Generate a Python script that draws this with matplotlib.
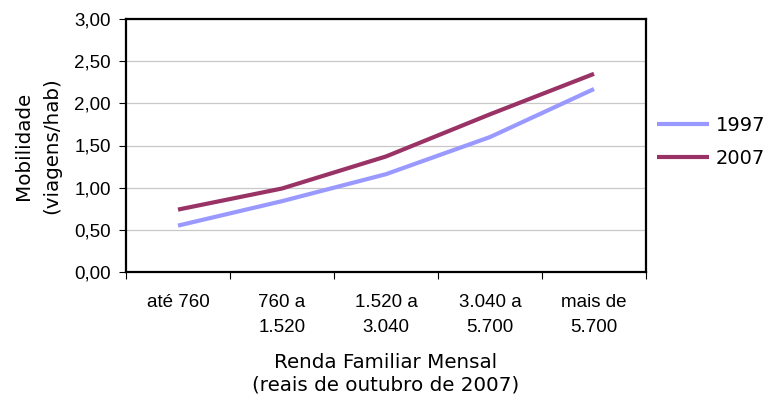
import matplotlib
matplotlib.use("Agg")
import matplotlib.pyplot as plt
from matplotlib.ticker import FuncFormatter, MultipleLocator

categories = ["até 760", "760 a\n1.520", "1.520 a\n3.040", "3.040 a\n5.700", "mais de\n5.700"]
mob_1997 = [0.55, 0.84, 1.16, 1.60, 2.17]
mob_2007 = [0.74, 0.99, 1.37, 1.87, 2.35]

COLOR_1997 = "#9999ff"
COLOR_2007 = "#993366"

fig = plt.figure(figsize=(7.65, 4.01), dpi=100)
ax = fig.add_axes([126 / 765, 1 - 272 / 401, 520 / 765, 253 / 401])

x = range(len(categories))
ax.plot(x, mob_1997, color=COLOR_1997, linewidth=3, label="1997", solid_capstyle="butt")
ax.plot(x, mob_2007, color=COLOR_2007, linewidth=3, label="2007", solid_capstyle="butt")

ax.set_xlim(-0.5, len(categories) - 0.5)
ax.set_ylim(0, 3)
ax.yaxis.set_major_locator(MultipleLocator(0.5))
ax.yaxis.set_major_formatter(FuncFormatter(lambda v, p: f"{v:.2f}".replace(".", ",")))
ax.grid(axis="y", color="#c8c8c8", linewidth=0.9)
ax.set_axisbelow(True)

ax.set_xticks([i + 0.5 for i in range(-1, len(categories))], minor=False)
ax.set_xticklabels([])
ax.set_xticks(list(x), minor=True)
ax.set_xticklabels(categories, minor=True, fontsize=13.5, family="Liberation Sans",
                   linespacing=1.6, va="top")
ax.tick_params(axis="x", which="minor", length=0, pad=16)
ax.tick_params(axis="x", which="major", length=5, direction="out", width=0.8)
ax.tick_params(axis="y", length=5, width=0.8, labelsize=13.5, pad=6)
for lbl in ax.get_yticklabels():
    lbl.set_family("Liberation Sans")

for s in ax.spines.values():
    s.set_linewidth(1.6)
    s.set_color("black")

ax.set_xlabel("Renda Familiar Mensal\n(reais de outubro de 2007)", fontsize=14.3,
              family="DejaVu Sans", labelpad=12.5, linespacing=1.2)
ax.set_ylabel("Mobilidade\n(viagens/hab)", fontsize=14.3, family="DejaVu Sans",
              labelpad=9.5, linespacing=1.6)

ax.legend(loc="center left", bbox_to_anchor=(0.988, 0.515), frameon=False,
          fontsize=14, handlelength=2.65, handletextpad=0.35, labelspacing=0.7,
          borderaxespad=0.5)

fig.savefig("out.png", dpi=100)
